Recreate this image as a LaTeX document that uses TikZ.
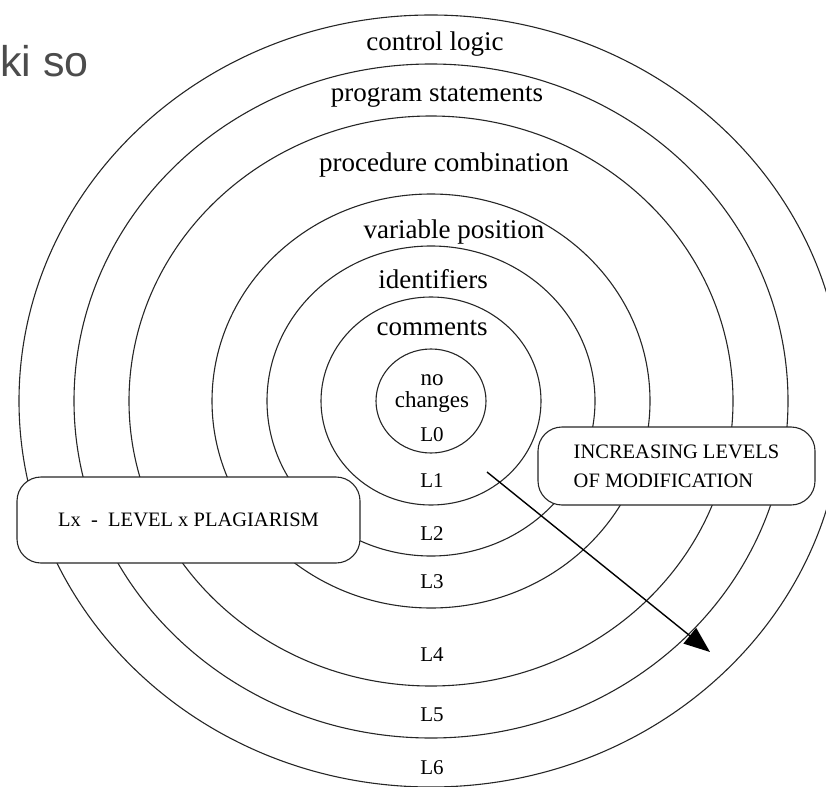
\documentclass[tikz,border=0pt]{standalone}
\usepackage{fontspec}
\setmainfont{Liberation Serif}
\newfontfamily\slidefont{Liberation Sans}
\usetikzlibrary{arrows.meta}
\begin{document}
\begin{tikzpicture}[x=1pt,y=-1pt,
  ring/.style={draw=black!85, line width=1.1pt},
  ringlabel/.style={inner sep=0pt, font=\fontsize{27}{30}\selectfont},
  levellabel/.style={inner sep=0pt, font=\fontsize{21}{24}\selectfont},
  infobox/.style={draw=black!85, line width=1.1pt, fill=white, rounded corners=24pt,
    font=\fontsize{20.5}{29}\selectfont, inner sep=0pt}]
\useasboundingbox (0,0) rectangle (826,786);
\clip (0,0) rectangle (826,786);
\coordinate (c) at (431,401);
% concentric rings
\foreach \rx/\ry in {55/52, 110/104, 164/155, 219/207, 302/285, 357/337, 412/386}
  \draw[ring] (c) ellipse [x radius=\rx pt, y radius=\ry pt];
% ring labels
\node[ringlabel] (cl) at (435,44) {control logic};
\node[ringlabel] (ps) at (437,97) {program statements};
\node[ringlabel] (pc) at (444,165) {procedure combination};
\node[ringlabel] (vp) at (454,232) {variable position};
\node[ringlabel] (id) at (433,279) {identifiers};
\node[ringlabel] (cm) at (432,328) {comments};
\node[inner sep=0pt, align=center, font=\fontsize{23}{21}\selectfont] (nc) at (432,394) {no\\[1pt]changes};
% level labels
\node[levellabel] (l0) at (432,435) {L0};
\node[levellabel] (l1) at (432,481) {L1};
\node[levellabel] (l2) at (432,534) {L2};
\node[levellabel] (l3) at (432,582) {L3};
\node[levellabel] (l4) at (432,655) {L4};
\node[levellabel] (l5) at (432,715) {L5};
\node[levellabel] (l6) at (432,768) {L6};
% boxes
\node[infobox, minimum width=343pt, minimum height=86pt] (lx) at (188.5,520)
  {Lx\ \ -\ \ LEVEL x PLAGIARISM};
\node[infobox, minimum width=277pt, minimum height=78pt, align=left] (inc) at (676.5,466)
  {INCREASING LEVELS\\OF MODIFICATION};
% arrow
\coordinate (as) at (487,472);
\coordinate (ae) at (710,652);
\draw[line width=1.4pt, -{Triangle[length=26pt,width=20pt]}] (as) -- (ae);
% cropped slide text
\node[anchor=base west, inner sep=0pt, text=black!70, font=\slidefont\fontsize{43}{43}\selectfont] (ks) at (0,77) {ki so};
\end{tikzpicture}
\end{document}
